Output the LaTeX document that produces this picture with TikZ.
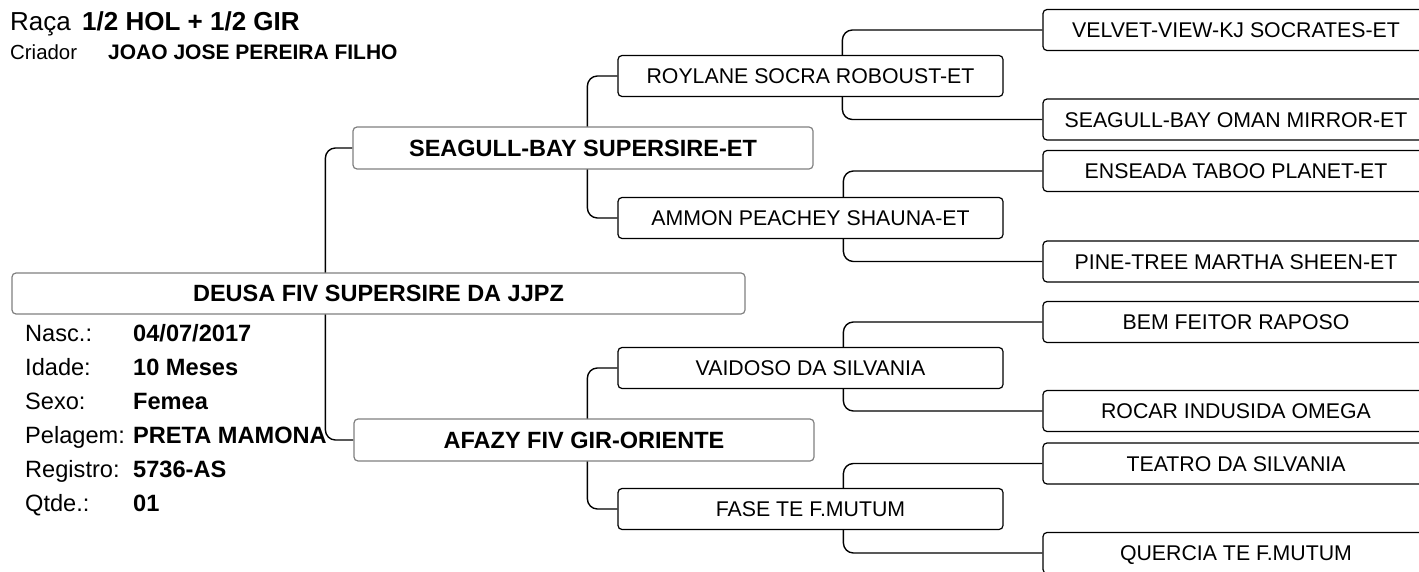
\documentclass[tikz,border=0pt]{standalone}
\usepackage{fontspec}
\setmainfont{Liberation Sans}
\usetikzlibrary{backgrounds}
\definecolor{boxgray}{HTML}{808080}

\begin{document}
\begin{tikzpicture}[x=1pt,y=-1pt,
    box/.style={rectangle,rounded corners=4pt,fill=white,line width=1.2pt,
      inner sep=0pt,text depth=0pt,minimum height=41pt},
    idbox/.style={box,draw=boxgray,minimum width=733pt,text height=16.8pt,font=\fontsize{23.5}{28}\selectfont\bfseries},
    parbox/.style={box,draw=boxgray,minimum width=460pt,minimum height=42pt,text height=16.8pt,font=\fontsize{23.5}{28}\selectfont\bfseries},
    avbox/.style={box,draw=black,minimum width=385pt,text height=15.3pt,font=\fontsize{21.3}{26}\selectfont},
    bisbox/.style={box,draw=black,minimum width=386pt,text height=15.3pt,font=\fontsize{21.3}{26}\selectfont},
    link/.style={line width=1.4pt,rounded corners=10pt},
    lbl/.style={anchor=base west,inner sep=0pt,font=\fontsize{23.6}{28}\selectfont},
    val/.style={lbl,font=\fontsize{23.6}{28}\selectfont\bfseries}]
  \useasboundingbox (0,0) rectangle (1419,572);
  % header
  \node[anchor=base west,inner sep=0pt,font=\fontsize{26}{30}\selectfont] (raca) at (10,31) {Raça};
  \node[anchor=base west,inner sep=0pt,font=\fontsize{26}{30}\selectfont\bfseries] (racav) at (82,31) {1/2 HOL + 1/2 GIR};
  \node[anchor=base west,inner sep=0pt,font=\fontsize{20.4}{24}\selectfont] (criador) at (10,60) {Criador};
  \node[anchor=base west,inner sep=0pt,font=\fontsize{21}{25}\selectfont\bfseries] (criadorv) at (108,60) {JOAO JOSE PEREIRA FILHO};
  % animal
  \node[idbox] (deusa) at (378.5,293.5) {DEUSA FIV SUPERSIRE DA JJPZ};
  \node[lbl] (nasc) at (25,341) {Nasc.:};
  \node[val] (nascv) at (133,341) {04/07/2017};
  \node[lbl] (idade) at (25,375) {Idade:};
  \node[val] (idadev) at (133,375) {10 Meses};
  \node[lbl] (sexo) at (25,409) {Sexo:};
  \node[val] (sexov) at (133,409) {Femea};
  \node[lbl] (pelagem) at (25,443) {Pelagem:};
  \node[val] (pelagemv) at (133,443) {PRETA MAMONA};
  \node[lbl] (registro) at (25,477) {Registro:};
  \node[val] (registrov) at (133,477) {5736-AS};
  \node[lbl] (qtde) at (25,511) {Qtde.:};
  \node[val] (qtdev) at (133,511) {01};
  % parents
  \node[parbox] (pai) at (583,148) {SEAGULL-BAY SUPERSIRE-ET};
  \node[parbox] (mae) at (584,440) {AFAZY FIV GIR-ORIENTE};
  % grandparents
  \node[avbox] (pp) at (810.5,76) {ROYLANE SOCRA ROBOUST-ET};
  \node[avbox] (pm) at (810.5,218) {AMMON PEACHEY SHAUNA-ET};
  \node[avbox] (mp) at (810.5,368) {VAIDOSO DA SILVANIA};
  \node[avbox] (mm) at (810.5,509) {FASE TE F.MUTUM};
  % great-grandparents
  \node[bisbox] (ppp) at (1236,30) {VELVET-VIEW-KJ SOCRATES-ET};
  \node[bisbox] (ppm) at (1236,119.5) {SEAGULL-BAY OMAN MIRROR-ET};
  \node[bisbox] (pmp) at (1236,171) {ENSEADA TABOO PLANET-ET};
  \node[bisbox] (pmm) at (1236,261.5) {PINE-TREE MARTHA SHEEN-ET};
  \node[bisbox] (mpp) at (1236,322) {BEM FEITOR RAPOSO};
  \node[bisbox] (mpm) at (1236,411) {ROCAR INDUSIDA OMEGA};
  \node[bisbox] (mmp) at (1236,463.5) {TEATRO DA SILVANIA};
  \node[bisbox] (mmm) at (1236,553) {QUERCIA TE F.MUTUM};
  \begin{scope}[on background layer]
    \draw[link] (pai.west) -- ++(-27,0) |- (mae.west);
    \draw[link] (pp.west) -- ++(-30,0) |- (pm.west);
    \draw[link] (mp.west) -- ++(-30,0) |- (mm.west);
    \draw[link] (ppp.west) -- ++(-200,0) |- (ppm.west);
    \draw[link] (pmp.west) -- ++(-199,0) |- (pmm.west);
    \draw[link] (mpp.west) -- ++(-199,0) |- (mpm.west);
    \draw[link] (mmp.west) -- ++(-199,0) |- (mmm.west);
  \end{scope}
\end{tikzpicture}
\end{document}
